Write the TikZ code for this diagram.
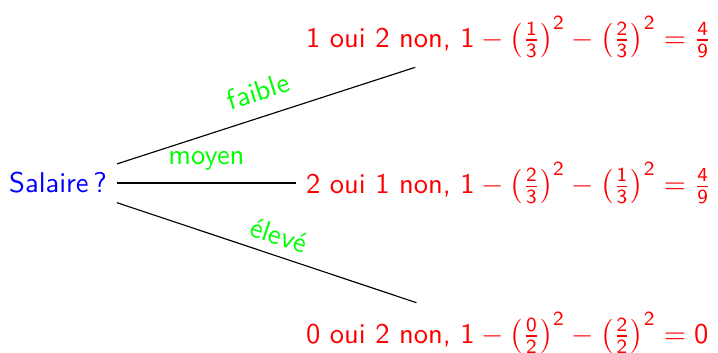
\documentclass[tikz,border=0pt]{standalone}
\renewcommand{\familydefault}{\sfdefault}
% sans-serif digits inside the formulas
\newcommand{\sd}[1]{\mathsf{#1}}
\newcommand{\sfrac}[2]{\frac{\sd{#1}}{\sd{#2}}}
\begin{document}
\begin{tikzpicture}[x=0.35pt,y=-0.35pt,
  every node/.style={font=\sffamily},
  question/.style={text=blue},
  outcome/.style={text=red, anchor=west},
  choice/.style={text=green, sloped, above},
  branch/.style={draw=black, line width=0.4pt}]
\useasboundingbox (0,0) rectangle (718,353);
\node[question] (root) at (58,183) {Salaire\,?};
\node[outcome] (hi) at (296,37)
  {1 oui 2 non, $\sd{1}-\left(\sfrac{1}{3}\right)^{\sd{2}}-\left(\sfrac{2}{3}\right)^{\sd{2}}=\sfrac{4}{9}$};
\node[outcome] (mid) at (296,183)
  {2 oui 1 non, $\sd{1}-\left(\sfrac{2}{3}\right)^{\sd{2}}-\left(\sfrac{1}{3}\right)^{\sd{2}}=\sfrac{4}{9}$};
\node[outcome] (lo) at (296,333)
  {0 oui 2 non, $\sd{1}-\left(\sfrac{0}{2}\right)^{\sd{2}}-\left(\sfrac{2}{2}\right)^{\sd{2}}=\sd{0}$};
\draw[branch] (root) -- node[choice, pos=0.5, above=2pt] {faible} (hi);
\draw[branch] (root) -- node[choice, pos=0.5, above=1pt] {moyen} (mid);
\draw[branch] (root) -- node[choice, pos=0.52] {élevé} (lo);
\end{tikzpicture}
\end{document}
